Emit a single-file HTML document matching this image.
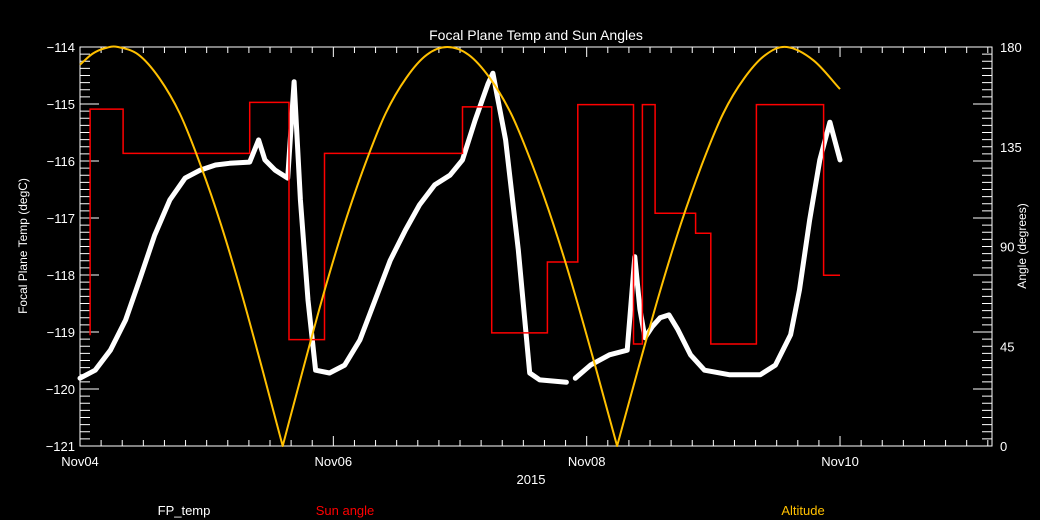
<!DOCTYPE html>
<html><head><meta charset="utf-8"><style>
html,body{margin:0;padding:0;background:#000;}
svg{display:block;font-family:"Liberation Sans",sans-serif;}
</style></head><body>
<svg id="chart" width="1040" height="520" viewBox="0 0 1040 520">
<rect width="1040" height="520" fill="#000"/>
<text x="536" y="40" fill="#fff" font-size="14" text-anchor="middle">Focal Plane Temp and Sun Angles</text>
<g id="axes"></g>
<g id="series"></g>
<text x="531" y="484" fill="#fff" font-size="13" text-anchor="middle">2015</text>
<text transform="translate(27,246) rotate(-90)" fill="#fff" font-size="12" text-anchor="middle">Focal Plane Temp (degC)</text>
<text transform="translate(1026,246) rotate(-90)" fill="#fff" font-size="12" text-anchor="middle">Angle (degrees)</text>
<text x="184" y="515" fill="#fff" font-size="13" text-anchor="middle">FP_temp</text>
<text x="345" y="515" fill="#ff0000" font-size="13" text-anchor="middle">Sun angle</text>
<text x="803" y="515" fill="#ffc000" font-size="13" text-anchor="middle">Altitude</text>
</svg>
<script>
// time in days since Nov04 00:00
const xTickLabels = ["Nov04","Nov06","Nov08","Nov10"];
const xTickDays = [0,2,4,6];
const leftTickLabels = [-114,-115,-116,-117,-118,-119,-120,-121];
const rightTickLabels = [0,45,90,135,180];

const tempDays = [0,0.12,0.24,0.36,0.47,0.59,0.71,0.83,0.95,1.07,1.18,1.34,1.41,1.46,1.54,1.64,1.69,1.74,1.80,1.86,1.97,2.09,2.21,2.33,2.45,2.57,2.68,2.80,2.92,3.02,3.12,3.22,3.26,3.36,3.46,3.55,3.63,3.84];
const tempVals = [-119.81,-119.67,-119.32,-118.79,-118.09,-117.30,-116.68,-116.30,-116.16,-116.07,-116.04,-116.02,-115.63,-115.98,-116.16,-116.30,-114.61,-116.68,-118.44,-119.67,-119.72,-119.58,-119.14,-118.44,-117.74,-117.21,-116.77,-116.42,-116.25,-115.98,-115.28,-114.65,-114.46,-115.63,-117.56,-119.72,-119.84,-119.88];
const tempDays2 = [3.91,4.03,4.18,4.32,4.38,4.42,4.46,4.52,4.58,4.65,4.72,4.82,4.93,5.13,5.37,5.49,5.61,5.68,5.76,5.84,5.92,6.00];
const tempVals2 = [-119.81,-119.58,-119.40,-119.32,-117.68,-118.60,-119.10,-118.90,-118.75,-118.70,-118.96,-119.40,-119.67,-119.75,-119.75,-119.58,-119.05,-118.26,-117.04,-115.98,-115.32,-115.98];

const sunDays = [0.08,0.08,0.34,0.34,1.34,1.34,1.65,1.65,1.93,1.93,3.02,3.02,3.25,3.25,3.69,3.69,3.93,3.93,4.37,4.37,4.44,4.44,4.54,4.54,4.86,4.86,4.98,4.98,5.34,5.34,5.87,5.87,6.0];
const sunVals = [50,152,152,132,132,155,155,48,48,132,132,153,153,51,51,83,83,154,154,46,46,154,154,105,105,96,96,46,46,154,154,77,77];

const altDays = [0,0.1,0.2,0.3,0.4625,0.625,0.7875,0.95,1.1125,1.275,1.4375,1.6,1.7625,1.925,2.0875,2.25,2.4125,2.575,2.7375,2.9,3.0675,3.235,3.4025,3.57,3.7375,3.905,4.0725,4.24,4.4075,4.575,4.7425,4.91,5.0775,5.245,5.4125,5.58,5.79,6.0];
const altVals = [172,177,179.5,180,176.5,166,150,127,100,69,35,0,35,69,100,127,150,166,176.5,180,176.5,166,150,127,100,69,35,0,35,69,100,127,150,166,176.5,180,174,161];

const X0=80,X1=992,Y0=47,Y1=446,PD=126.67;
const xs=d=>X0+d*PD;
const yT=t=>Y0+(-114-t)*57;
const yA=a=>Y1-a*(Y1-Y0)/180;
const NS="http://www.w3.org/2000/svg";
const axes=document.getElementById('axes'), ser=document.getElementById('series');
function mk(tag,attrs,parent){const e=document.createElementNS(NS,tag);for(const k in attrs)e.setAttribute(k,attrs[k]);parent.appendChild(e);return e;}

const frame=mk('rect',{x:X0,y:Y0,width:X1-X0,height:Y1-Y0,fill:'none',stroke:'#fff','stroke-width':1},axes);


let tk='';
for(let i=0;;i++){const x=X0+i*PD/6;if(x>X1)break;const L=(i%12===0)?10:6;tk+=`M${x},${Y1}v${-L}M${x},${Y0}v${L}`;}
for(let i=0;i<=56;i++){const y=Y0+i*57/8;const L=(i%8===0)?19:10;tk+=`M${X0},${y}h${L}M${X1},${y}h${-L}`;}
const ticks=mk('path',{d:tk,stroke:'#fff','stroke-width':1,fill:'none'},axes);


xTickLabels.forEach((l,i)=>{const t=mk('text',{x:xs(xTickDays[i]),y:466,fill:'#fff','font-size':13,'text-anchor':'middle'},axes);t.textContent=l;

});
leftTickLabels.forEach(v=>{const t=mk('text',{x:75,y:yT(v)+5,fill:'#fff','font-size':13,'text-anchor':'end'},axes);t.textContent=String(v).replace('-','\u2212');

});
rightTickLabels.forEach(v=>{const t=mk('text',{x:1000,y:yA(v)+5,fill:'#fff','font-size':13},axes);t.textContent=v;

});

function pts(ds,vs,f){return ds.map((d,i)=>xs(d).toFixed(1)+','+f(vs[i]).toFixed(1)).join(' ');}
// smooth path through points, breaking smoothness at zero-valued (cusp) points
function smoothPath(ds,vs,f){
  const P=ds.map((d,i)=>[xs(d),f(vs[i])]);
  const n=P.length;
  const tan=P.map((p,i)=>{
    if(vs[i]===0||i===0||i===n-1){return null;}
    return [(P[i+1][0]-P[i-1][0])/2,(P[i+1][1]-P[i-1][1])/2];
  });
  let d='M'+P[0][0].toFixed(1)+','+P[0][1].toFixed(1);
  for(let i=0;i<n-1;i++){
    const a=P[i],b=P[i+1];
    const ta=tan[i]||[b[0]-a[0],b[1]-a[1]];
    const tb=tan[i+1]||[b[0]-a[0],b[1]-a[1]];
    const c1=[a[0]+ta[0]/3,a[1]+ta[1]/3],c2=[b[0]-tb[0]/3,b[1]-tb[1]/3];
    d+=`C${c1[0].toFixed(1)},${c1[1].toFixed(1)} ${c2[0].toFixed(1)},${c2[1].toFixed(1)} ${b[0].toFixed(1)},${b[1].toFixed(1)}`;
  }
  return d;
}
const t1=mk('polyline',{points:pts(tempDays,tempVals,yT),fill:'none',stroke:'#fff','stroke-width':5,'stroke-linejoin':'round','stroke-linecap':'round'},ser);


const t2=mk('polyline',{points:pts(tempDays2,tempVals2,yT),fill:'none',stroke:'#fff','stroke-width':5,'stroke-linejoin':'round','stroke-linecap':'round'},ser);


const s=mk('polyline',{points:pts(sunDays,sunVals,yA),fill:'none',stroke:'#ff0000','stroke-width':1.5},ser);


const a=mk('path',{d:smoothPath(altDays,altVals,yA),fill:'none',stroke:'#ffc000','stroke-width':2,'stroke-linejoin':'round'},ser);


</script>
</body></html>
